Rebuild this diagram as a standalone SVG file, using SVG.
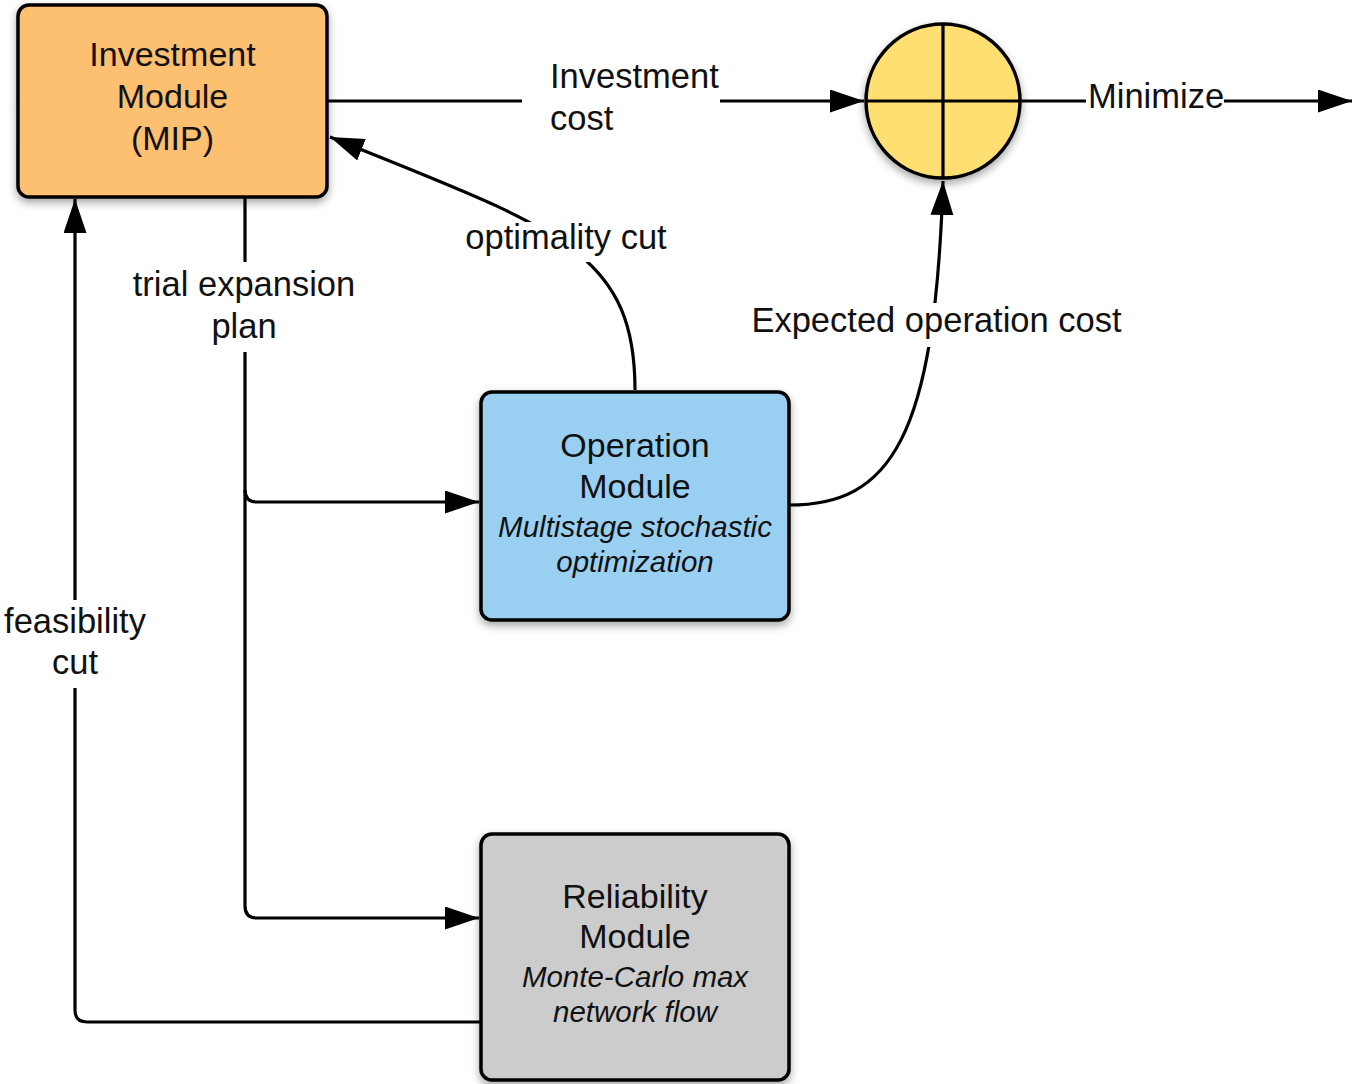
<svg xmlns="http://www.w3.org/2000/svg" width="1354" height="1084" viewBox="0 0 1354 1084">
<style>
.node{stroke:#000;stroke-width:3.5;filter:url(#sh)}
.t{font-family:"Liberation Sans",Arial,sans-serif;font-size:34px;fill:#111;text-anchor:middle}
.i{font-family:"Liberation Sans",Arial,sans-serif;font-size:29.5px;font-style:italic;fill:#111;text-anchor:middle}
.c{fill:none;stroke:#000;stroke-width:3.2}
.lbl{font-family:"Liberation Sans",Arial,sans-serif;font-size:34.5px;fill:#111}
</style>
<defs>
<filter id="sh" x="-20%" y="-20%" width="140%" height="150%">
<feDropShadow dx="0" dy="4" stdDeviation="4" flood-color="#000" flood-opacity="0.35"/>
</filter>
<marker id="ar" markerUnits="userSpaceOnUse" markerWidth="36" markerHeight="24" refX="34" refY="11.5" orient="auto">
<path d="M0,0 L34,11.5 L0,23 z" fill="#000"/>
</marker>
</defs>
<rect width="1354" height="1084" fill="#fff"/>
<g id="connectors">
<path class="c" d="M327,101 L864,101" marker-end="url(#ar)"/>
<path class="c" d="M1020,101 L1352,101" marker-end="url(#ar)"/>
<path class="c" d="M635,390 C635,250 555,228 330,137" marker-end="url(#ar)"/>
<path class="c" d="M789,505 C890,505 935,440 943,181" marker-end="url(#ar)"/>
<path class="c" d="M245,197 L245,906 Q245,918 257,918 L479,918" marker-end="url(#ar)"/>
<path class="c" d="M245,490 Q245,502 257,502 L479,502" marker-end="url(#ar)"/>
<path class="c" d="M481,1022 L87,1022 Q75,1022 75,1010 L75,199" marker-end="url(#ar)"/>
</g>
<g id="labels">
<rect x="522" y="56" width="198" height="82" fill="#fff"/>
<text class="lbl" x="550" y="88">Investment</text>
<text class="lbl" x="550" y="130">cost</text>
<rect x="1086" y="80" width="138" height="36" fill="#fff"/>
<text class="lbl" x="1088" y="108">Minimize</text>
<rect x="462" y="222" width="208" height="40" fill="#fff"/>
<text class="lbl" x="566" y="249" text-anchor="middle">optimality cut</text>
<rect x="128" y="262" width="232" height="90" fill="#fff"/>
<text class="lbl" x="244" y="296" text-anchor="middle">trial expansion</text>
<text class="lbl" x="244" y="338" text-anchor="middle">plan</text>
<rect x="747" y="303" width="380" height="44" fill="#fff"/>
<text class="lbl" x="936.5" y="332" text-anchor="middle">Expected operation cost</text>
<rect x="0" y="600" width="150" height="88" fill="#fff"/>
<text class="lbl" x="75" y="633" text-anchor="middle">feasibility</text>
<text class="lbl" x="75" y="674" text-anchor="middle">cut</text>
</g>
<g id="investment">
<rect class="node" x="18" y="5" width="309" height="192" rx="11" fill="#fdbf70"/>
<text class="t" x="172.5" y="66">Investment</text>
<text class="t" x="172.5" y="108">Module</text>
<text class="t" x="172.5" y="150">(MIP)</text>
</g>
<g id="sum">
<circle class="node" cx="943" cy="101" r="77" fill="#ffdf71"/>
<path d="M866,101 L1020,101 M943,24 L943,178" stroke="#000" stroke-width="3.2"/>
</g>
<g id="operation">
<rect class="node" x="481" y="392" width="308" height="228" rx="11" fill="#99d0f2"/>
<text class="t" x="635" y="457">Operation</text>
<text class="t" x="635" y="498">Module</text>
<text class="i" x="635" y="537">Multistage stochastic</text>
<text class="i" x="635" y="572">optimization</text>
</g>
<g id="reliability">
<rect class="node" x="481" y="834" width="308" height="246" rx="11" fill="#cccccc"/>
<text class="t" x="635" y="908">Reliability</text>
<text class="t" x="635" y="948">Module</text>
<text class="i" x="635" y="987">Monte-Carlo max</text>
<text class="i" x="635" y="1022">network flow</text>
</g>
</svg>
